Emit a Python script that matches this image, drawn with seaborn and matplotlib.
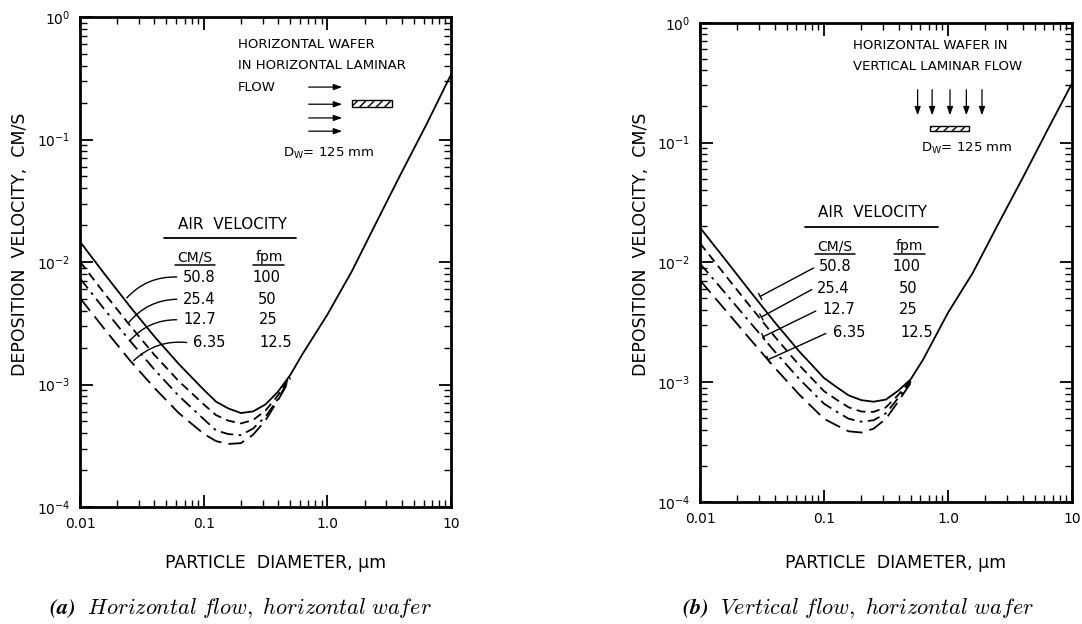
import matplotlib
matplotlib.use("Agg")
import matplotlib.pyplot as plt
import pandas as pd
import seaborn as sns
from matplotlib.patches import Rectangle
from matplotlib.ticker import FixedLocator, LogLocator, NullFormatter

# particle diameter, um (shared grid; dashed curves stop where they join the solid one)
diameter = [0.01, 0.0158, 0.0251, 0.0398, 0.0631, 0.1, 0.126, 0.158, 0.2, 0.251,
            0.316, 0.398, 0.501, 0.631, 1.0, 1.58, 2.51, 3.98, 6.31, 10.0]

# (a) horizontal flow, horizontal wafer -- deposition velocity, cm/s
a_50_8 = [0.01466, 0.00798, 0.004385, 0.002477, 0.001466, 0.000908, 0.000724, 0.000638,
          0.000585, 0.000603, 0.000687, 0.000871, 0.001194, 0.001778, 0.003715, 0.008414,
          0.02138, 0.0537, 0.1318, 0.3388]
a_25_4 = [0.01007, 0.00552, 0.00307, 0.001754, 0.001062, 0.000689, 0.000562, 0.000507,
          0.000481, 0.000513, 0.000612, 0.000813, 0.001167]
a_12_7 = [0.00735, 0.00409, 0.002301, 0.00133, 0.000805, 0.000522, 0.000422, 0.000394,
          0.000386, 0.000437, 0.000546, 0.000759, 0.00114]
a_6_35 = [0.00508, 0.00283, 0.00159, 0.000942, 0.000583, 0.000396, 0.000345, 0.000327,
          0.000332, 0.000389, 0.000509, 0.000741, 0.001114]

# (b) vertical flow, horizontal wafer
b_50_8 = [0.0195, 0.01072, 0.00581, 0.00319, 0.001807, 0.001084, 0.000912, 0.000776,
          0.000708, 0.000687, 0.000716, 0.000851, 0.001059, 0.001549, 0.0038, 0.00813,
          0.0204, 0.0501, 0.1259, 0.3119]
b_25_4 = [0.01445, 0.00794, 0.004355, 0.00242, 0.001387, 0.000841, 0.000716, 0.000617,
          0.000569, 0.000565, 0.000617, 0.000785, 0.001035]
b_12_7 = [0.00977, 0.00562, 0.00319, 0.001816, 0.001064, 0.000661, 0.000569, 0.000495,
          0.000468, 0.000481, 0.00055, 0.000741, 0.001012]
b_6_35 = [0.00708, 0.00407, 0.002312, 0.00133, 0.000789, 0.000495, 0.000437, 0.000389,
          0.00038, 0.000409, 0.000495, 0.000692, 0.000989]

air_cms = ["50.8", "25.4", "12.7", "6.35"]
air_fpm = ["100", "50", "25", "12.5"]

x_ticks = [0.01, 0.1, 1.0, 10.0]
x_tick_labels = ["0.01", "0.1", "1.0", "10"]
y_ticks = [1e-4, 1e-3, 1e-2, 1e-1, 1.0]
y_tick_labels = [r"$10^{-4}$", r"$10^{-3}$", r"$10^{-2}$", r"$10^{-1}$", r"$10^{0}$"]

dash_map = {"50.8": "", "25.4": (5, 3), "12.7": (7, 3, 1.5, 3), "6.35": (9, 4)}

sns.set_style("ticks")
plt.rcParams["font.family"] = ["DejaVu Sans"]
plt.rcParams["mathtext.fontset"] = "dejavusans"
for key in ("text.color", "axes.labelcolor", "xtick.color", "ytick.color", "axes.edgecolor"):
    plt.rcParams[key] = "black"


def to_frame(curves):
    rows = []
    for label, ys in zip(air_cms, curves):
        for d, v in zip(diameter, ys):
            rows.append({"diameter": d, "velocity": v, "air": label})
    return pd.DataFrame(rows)


def draw_panel(ax, curves):
    df = to_frame(curves)
    sns.lineplot(data=df, x="diameter", y="velocity", style="air", style_order=air_cms,
                 dashes=dash_map, color="black", linewidth=1.3, estimator=None,
                 sort=False, legend=False, ax=ax)
    ax.set_xscale("log")
    ax.set_yscale("log")
    ax.set_xlim(0.01, 10)
    ax.set_ylim(1e-4, 1)
    ax.xaxis.set_major_locator(FixedLocator(x_ticks))
    ax.set_xticklabels(x_tick_labels)
    ax.yaxis.set_major_locator(FixedLocator(y_ticks))
    ax.set_yticklabels(y_tick_labels)
    for axis in (ax.xaxis, ax.yaxis):
        axis.set_minor_locator(LogLocator(base=10, subs=range(2, 10), numticks=20))
        axis.set_minor_formatter(NullFormatter())
    ax.tick_params(which="both", direction="in", top=True, right=True,
                   labelsize=10, pad=7, colors="black")
    ax.tick_params(which="major", length=9, width=1.3)
    ax.tick_params(which="minor", length=5, width=1.0)
    ax.set_xlabel("")
    ax.set_ylabel("")
    for sp in ax.spines.values():
        sp.set_linewidth(2.0)
        sp.set_color("black")


def air_table(ax, head, cms_hdr, fpm_hdr, rows_y, cms_x, fpm_x, underline):
    t = ax.transAxes
    ax.text(head[0], head[1], "AIR  VELOCITY", transform=t, ha="center",
            va="center", fontsize=11)
    ax.plot(underline[0], [underline[1]] * 2, color="black", lw=1.3, transform=t)
    for (x, y, w), txt in zip((cms_hdr, fpm_hdr), ("CM/S", "fpm")):
        ax.text(x, y, txt, transform=t, ha="center", va="center", fontsize=10)
        ax.plot([x - w / 2, x + w / 2], [y - 0.017] * 2, color="black", lw=1.1,
                transform=t)
    for i in range(4):
        ax.text(cms_x[i], rows_y[i], air_cms[i], transform=t, ha="left",
                va="center", fontsize=10.5)
        ax.text(fpm_x[i], rows_y[i], air_fpm[i], transform=t, ha="left",
                va="center", fontsize=10.5)


fig = plt.figure(figsize=(10.82, 6.24), dpi=100)
ax_a = fig.add_axes([80 / 1082, 117 / 624, 371 / 1082, 490 / 624])
ax_b = fig.add_axes([700 / 1082, 122 / 624, 372 / 1082, 479.3 / 624])

draw_panel(ax_a, [a_50_8, a_25_4, a_12_7, a_6_35])
draw_panel(ax_b, [b_50_8, b_25_4, b_12_7, b_6_35])

# --- panel (a) annotations
t = ax_a.transAxes
for y, line in zip([0.943, 0.902, 0.857], ["HORIZONTAL WAFER", "IN HORIZONTAL LAMINAR", "FLOW"]):
    ax_a.text(0.426, y, line, transform=t, ha="left", va="center", fontsize=9.5)
for y in [0.857, 0.822, 0.794, 0.767]:
    ax_a.annotate("", xy=(0.714, y), xytext=(0.609, y), xycoords="axes fraction",
                  arrowprops=dict(arrowstyle="-|>,head_length=0.5,head_width=0.18",
                                  color="black", lw=0.9))
ax_a.add_patch(Rectangle((0.733, 0.817), 0.108, 0.013, transform=t, facecolor="white",
                         edgecolor="black", hatch="////", lw=1.0))
ax_a.text(0.546, 0.722, r"D$_\mathrm{W}$= 125 mm", transform=t, ha="left",
          va="center", fontsize=9.5)
air_table(ax_a, (0.410, 0.576), (0.310, 0.510, 0.11), (0.509, 0.510, 0.084),
          [0.469, 0.424, 0.382, 0.335], [0.278, 0.278, 0.278, 0.305],
          [0.466, 0.480, 0.482, 0.485], ([0.226, 0.582], 0.549))
a_targets = [(0.0231, 0.0049), (0.0239, 0.00306), (0.0245, 0.00219), (0.0262, 0.00151)]
a_starts = [(0.268, 0.469), (0.268, 0.424), (0.268, 0.382), (0.295, 0.335)]
for xy, st in zip(a_targets, a_starts):
    ax_a.annotate("", xy=xy, xytext=st, textcoords="axes fraction",
                  arrowprops=dict(arrowstyle="-", color="black", lw=1.0,
                                  connectionstyle="arc3,rad=0.25"))

# --- panel (b) annotations
t = ax_b.transAxes
for y, line in zip([0.953, 0.908], ["HORIZONTAL WAFER IN", "VERTICAL LAMINAR FLOW"]):
    ax_b.text(0.410, y, line, transform=t, ha="left", va="center", fontsize=9.5)
for x in [0.585, 0.624, 0.672, 0.716, 0.758]:
    ax_b.annotate("", xy=(x, 0.801), xytext=(x, 0.866), xycoords="axes fraction",
                  arrowprops=dict(arrowstyle="-|>,head_length=0.5,head_width=0.18",
                                  color="black", lw=0.9))
ax_b.add_patch(Rectangle((0.618, 0.774), 0.105, 0.011, transform=t, facecolor="white",
                         edgecolor="black", hatch="////", lw=1.0))
ax_b.text(0.594, 0.738, r"D$_\mathrm{W}$= 125 mm", transform=t, ha="left",
          va="center", fontsize=9.5)
air_table(ax_b, (0.465, 0.603), (0.363, 0.534, 0.109), (0.563, 0.534, 0.084),
          [0.491, 0.446, 0.401, 0.354], [0.320, 0.315, 0.328, 0.358],
          [0.516, 0.535, 0.535, 0.540], ([0.282, 0.640], 0.574))
b_targets = [(0.0292, 0.00507), (0.0299, 0.00341), (0.0309, 0.00234), (0.0339, 0.00151)]
b_starts = [(0.312, 0.491), (0.307, 0.446), (0.318, 0.401), (0.345, 0.354)]
for xy, st in zip(b_targets, b_starts):
    ax_b.annotate("", xy=xy, xytext=st, textcoords="axes fraction",
                  arrowprops=dict(arrowstyle="-[,widthB=0.25,lengthB=0", color="black",
                                  lw=1.0))

# axis titles and captions
for xc, yc in [(20, 244), (641, 244)]:
    fig.text(xc / 1082, 1 - yc / 624, "DEPOSITION  VELOCITY,  CM/S", rotation=90,
             ha="center", va="center", fontsize=12.5)
for xc in [276, 896]:
    fig.text(xc / 1082, 1 - 563 / 624, "PARTICLE  DIAMETER, μm", ha="center",
             va="center", fontsize=12.5)

plt.rcParams["mathtext.fontset"] = "cm"
fig.text(240 / 1082, 1 - 608 / 624,
         r"$\mathbfit{(a)}\ \ \mathit{Horizontal\ flow,\ horizontal\ wafer}$",
         ha="center", va="center", fontsize=16)
fig.text(858 / 1082, 1 - 608 / 624,
         r"$\mathbfit{(b)}\ \ \mathit{Vertical\ flow,\ horizontal\ wafer}$",
         ha="center", va="center", fontsize=16)

fig.savefig("out.png", dpi=100)
plt.close(fig)
